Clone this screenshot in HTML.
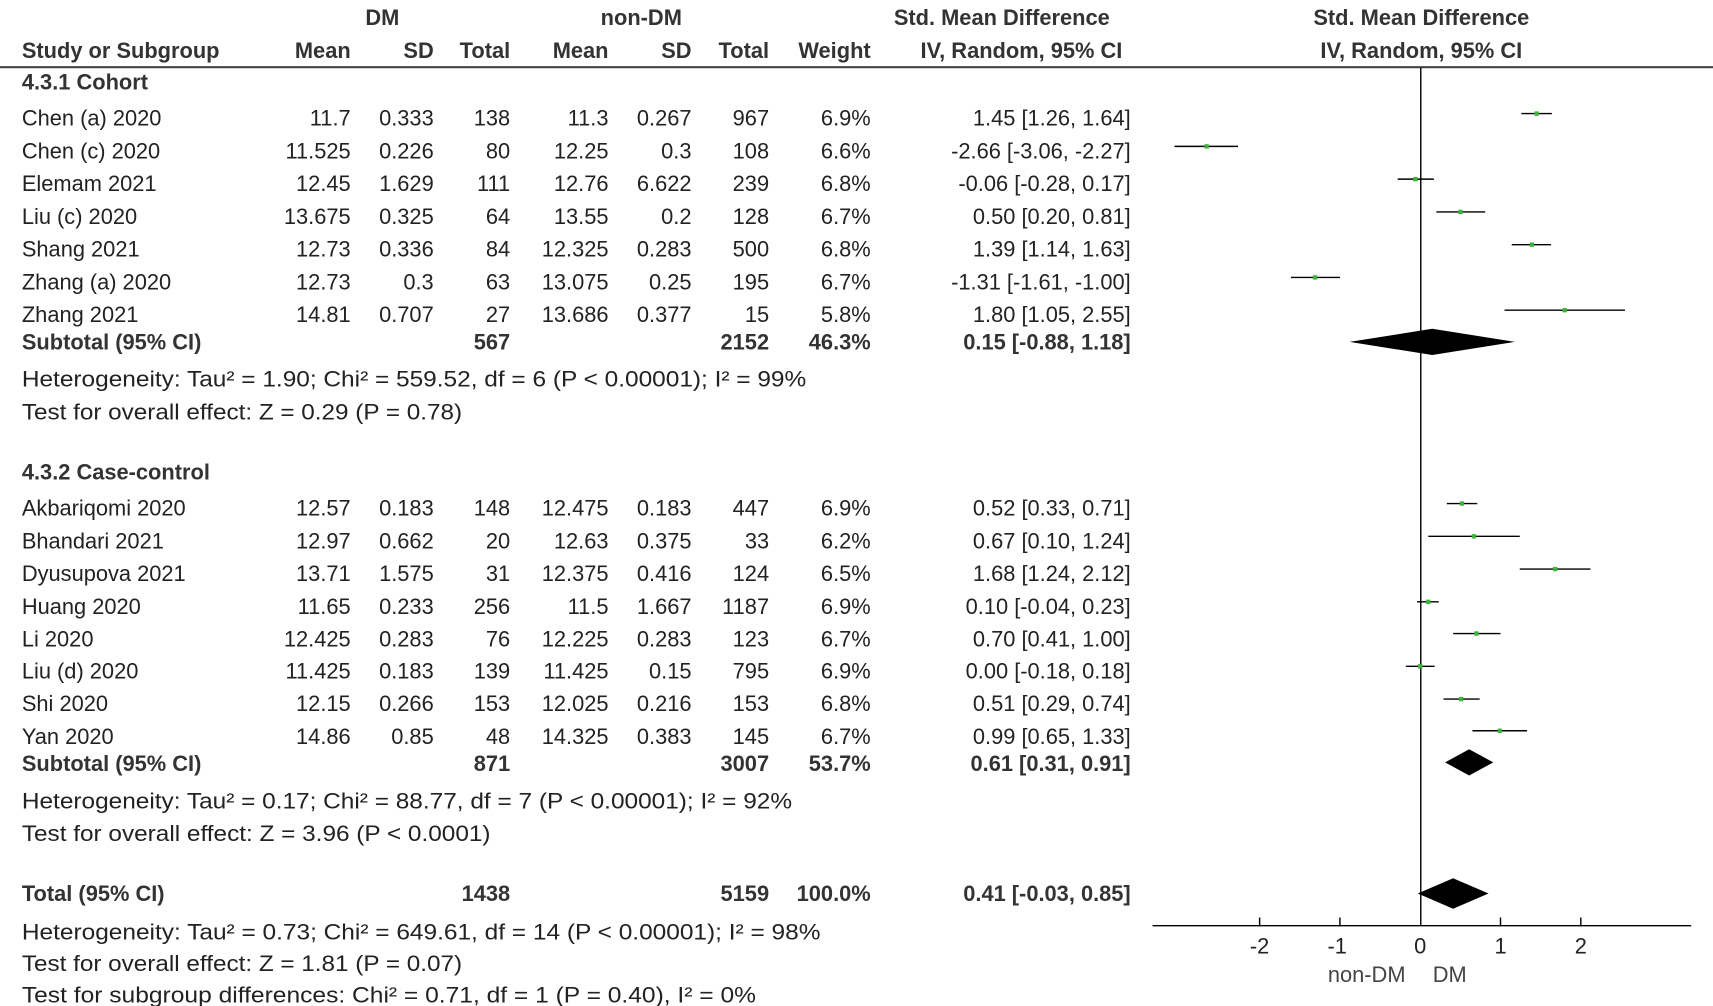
<!DOCTYPE html>
<html><head><meta charset="utf-8"><style>
html,body{margin:0;padding:0;background:#fff;}
svg{display:block;}
text{font-family:"Liberation Sans",Arial,sans-serif;font-size:20px;fill:#222;}
.b{font-weight:bold;fill:#333;}
.r{text-anchor:end;}
.c{text-anchor:middle;}
</style></head><body>
<svg width="1713" height="1006" viewBox="0 0 1568 921" preserveAspectRatio="none" xmlns="http://www.w3.org/2000/svg">
<!-- header -->
<text class="b c" x="350" y="23">DM</text>
<text class="b c" x="587" y="23">non-DM</text>
<text class="b c" x="917" y="23">Std. Mean Difference</text>
<text class="b c" x="1301" y="23">Std. Mean Difference</text>
<text class="b" x="20" y="53">Study or Subgroup</text>
<text class="b r" x="321" y="53">Mean</text>
<text class="b r" x="397" y="53">SD</text>
<text class="b r" x="467" y="53">Total</text>
<text class="b r" x="557" y="53">Mean</text>
<text class="b r" x="633" y="53">SD</text>
<text class="b r" x="704" y="53">Total</text>
<text class="b r" x="797" y="53">Weight</text>
<text class="b c" x="935" y="53">IV, Random, 95% CI</text>
<text class="b c" x="1301" y="53">IV, Random, 95% CI</text>
<line x1="0" y1="61.5" x2="1568" y2="61.5" stroke="#444" stroke-width="2"/>

<text class="b" x="20" y="82">4.3.1 Cohort</text>
<g>
<text x="20" y="115">Chen (a) 2020</text><text class="r" x="321" y="115">11.7</text><text class="r" x="397" y="115">0.333</text><text class="r" x="467" y="115">138</text><text class="r" x="557" y="115">11.3</text><text class="r" x="633" y="115">0.267</text><text class="r" x="704" y="115">967</text><text class="r" x="797" y="115">6.9%</text><text class="r" x="1035" y="115">1.45 [1.26, 1.64]</text>
<text x="20" y="145">Chen (c) 2020</text><text class="r" x="321" y="145">11.525</text><text class="r" x="397" y="145">0.226</text><text class="r" x="467" y="145">80</text><text class="r" x="557" y="145">12.25</text><text class="r" x="633" y="145">0.3</text><text class="r" x="704" y="145">108</text><text class="r" x="797" y="145">6.6%</text><text class="r" x="1035" y="145">-2.66 [-3.06, -2.27]</text>
<text x="20" y="175">Elemam 2021</text><text class="r" x="321" y="175">12.45</text><text class="r" x="397" y="175">1.629</text><text class="r" x="467" y="175">111</text><text class="r" x="557" y="175">12.76</text><text class="r" x="633" y="175">6.622</text><text class="r" x="704" y="175">239</text><text class="r" x="797" y="175">6.8%</text><text class="r" x="1035" y="175">-0.06 [-0.28, 0.17]</text>
<text x="20" y="205">Liu (c) 2020</text><text class="r" x="321" y="205">13.675</text><text class="r" x="397" y="205">0.325</text><text class="r" x="467" y="205">64</text><text class="r" x="557" y="205">13.55</text><text class="r" x="633" y="205">0.2</text><text class="r" x="704" y="205">128</text><text class="r" x="797" y="205">6.7%</text><text class="r" x="1035" y="205">0.50 [0.20, 0.81]</text>
<text x="20" y="235">Shang 2021</text><text class="r" x="321" y="235">12.73</text><text class="r" x="397" y="235">0.336</text><text class="r" x="467" y="235">84</text><text class="r" x="557" y="235">12.325</text><text class="r" x="633" y="235">0.283</text><text class="r" x="704" y="235">500</text><text class="r" x="797" y="235">6.8%</text><text class="r" x="1035" y="235">1.39 [1.14, 1.63]</text>
<text x="20" y="265">Zhang (a) 2020</text><text class="r" x="321" y="265">12.73</text><text class="r" x="397" y="265">0.3</text><text class="r" x="467" y="265">63</text><text class="r" x="557" y="265">13.075</text><text class="r" x="633" y="265">0.25</text><text class="r" x="704" y="265">195</text><text class="r" x="797" y="265">6.7%</text><text class="r" x="1035" y="265">-1.31 [-1.61, -1.00]</text>
<text x="20" y="295">Zhang 2021</text><text class="r" x="321" y="295">14.81</text><text class="r" x="397" y="295">0.707</text><text class="r" x="467" y="295">27</text><text class="r" x="557" y="295">13.686</text><text class="r" x="633" y="295">0.377</text><text class="r" x="704" y="295">15</text><text class="r" x="797" y="295">5.8%</text><text class="r" x="1035" y="295">1.80 [1.05, 2.55]</text>
<text class="b" x="20" y="320">Subtotal (95% CI)</text><text class="b r" x="467" y="320">567</text><text class="b r" x="704" y="320">2152</text><text class="b r" x="797" y="320">46.3%</text><text class="b r" x="1035" y="320">0.15 [-0.88, 1.18]</text>
<text x="20" y="354" textLength="718" lengthAdjust="spacingAndGlyphs">Heterogeneity: Tau² = 1.90; Chi² = 559.52, df = 6 (P &lt; 0.00001); I² = 99%</text>
<text x="20" y="384" textLength="403" lengthAdjust="spacingAndGlyphs">Test for overall effect: Z = 0.29 (P = 0.78)</text>
</g>

<text class="b" x="20" y="439">4.3.2 Case-control</text>
<g>
<text x="20" y="472">Akbariqomi 2020</text><text class="r" x="321" y="472">12.57</text><text class="r" x="397" y="472">0.183</text><text class="r" x="467" y="472">148</text><text class="r" x="557" y="472">12.475</text><text class="r" x="633" y="472">0.183</text><text class="r" x="704" y="472">447</text><text class="r" x="797" y="472">6.9%</text><text class="r" x="1035" y="472">0.52 [0.33, 0.71]</text>
<text x="20" y="502">Bhandari 2021</text><text class="r" x="321" y="502">12.97</text><text class="r" x="397" y="502">0.662</text><text class="r" x="467" y="502">20</text><text class="r" x="557" y="502">12.63</text><text class="r" x="633" y="502">0.375</text><text class="r" x="704" y="502">33</text><text class="r" x="797" y="502">6.2%</text><text class="r" x="1035" y="502">0.67 [0.10, 1.24]</text>
<text x="20" y="532">Dyusupova 2021</text><text class="r" x="321" y="532">13.71</text><text class="r" x="397" y="532">1.575</text><text class="r" x="467" y="532">31</text><text class="r" x="557" y="532">12.375</text><text class="r" x="633" y="532">0.416</text><text class="r" x="704" y="532">124</text><text class="r" x="797" y="532">6.5%</text><text class="r" x="1035" y="532">1.68 [1.24, 2.12]</text>
<text x="20" y="562">Huang 2020</text><text class="r" x="321" y="562">11.65</text><text class="r" x="397" y="562">0.233</text><text class="r" x="467" y="562">256</text><text class="r" x="557" y="562">11.5</text><text class="r" x="633" y="562">1.667</text><text class="r" x="704" y="562">1187</text><text class="r" x="797" y="562">6.9%</text><text class="r" x="1035" y="562">0.10 [-0.04, 0.23]</text>
<text x="20" y="592">Li 2020</text><text class="r" x="321" y="592">12.425</text><text class="r" x="397" y="592">0.283</text><text class="r" x="467" y="592">76</text><text class="r" x="557" y="592">12.225</text><text class="r" x="633" y="592">0.283</text><text class="r" x="704" y="592">123</text><text class="r" x="797" y="592">6.7%</text><text class="r" x="1035" y="592">0.70 [0.41, 1.00]</text>
<text x="20" y="621">Liu (d) 2020</text><text class="r" x="321" y="621">11.425</text><text class="r" x="397" y="621">0.183</text><text class="r" x="467" y="621">139</text><text class="r" x="557" y="621">11.425</text><text class="r" x="633" y="621">0.15</text><text class="r" x="704" y="621">795</text><text class="r" x="797" y="621">6.9%</text><text class="r" x="1035" y="621">0.00 [-0.18, 0.18]</text>
<text x="20" y="651">Shi 2020</text><text class="r" x="321" y="651">12.15</text><text class="r" x="397" y="651">0.266</text><text class="r" x="467" y="651">153</text><text class="r" x="557" y="651">12.025</text><text class="r" x="633" y="651">0.216</text><text class="r" x="704" y="651">153</text><text class="r" x="797" y="651">6.8%</text><text class="r" x="1035" y="651">0.51 [0.29, 0.74]</text>
<text x="20" y="681">Yan 2020</text><text class="r" x="321" y="681">14.86</text><text class="r" x="397" y="681">0.85</text><text class="r" x="467" y="681">48</text><text class="r" x="557" y="681">14.325</text><text class="r" x="633" y="681">0.383</text><text class="r" x="704" y="681">145</text><text class="r" x="797" y="681">6.7%</text><text class="r" x="1035" y="681">0.99 [0.65, 1.33]</text>
<text class="b" x="20" y="706">Subtotal (95% CI)</text><text class="b r" x="467" y="706">871</text><text class="b r" x="704" y="706">3007</text><text class="b r" x="797" y="706">53.7%</text><text class="b r" x="1035" y="706">0.61 [0.31, 0.91]</text>
<text x="20" y="740" textLength="705" lengthAdjust="spacingAndGlyphs">Heterogeneity: Tau² = 0.17; Chi² = 88.77, df = 7 (P &lt; 0.00001); I² = 92%</text>
<text x="20" y="770" textLength="429" lengthAdjust="spacingAndGlyphs">Test for overall effect: Z = 3.96 (P &lt; 0.0001)</text>
</g>

<text class="b" x="20" y="825">Total (95% CI)</text><text class="b r" x="467" y="825">1438</text><text class="b r" x="704" y="825">5159</text><text class="b r" x="797" y="825">100.0%</text><text class="b r" x="1035" y="825">0.41 [-0.03, 0.85]</text>
<text x="20" y="860" textLength="731" lengthAdjust="spacingAndGlyphs">Heterogeneity: Tau² = 0.73; Chi² = 649.61, df = 14 (P &lt; 0.00001); I² = 98%</text>
<text x="20" y="889" textLength="403" lengthAdjust="spacingAndGlyphs">Test for overall effect: Z = 1.81 (P = 0.07)</text>
<text x="20" y="918" textLength="672" lengthAdjust="spacingAndGlyphs">Test for subgroup differences: Chi² = 0.71, df = 1 (P = 0.40), I² = 0%</text>

<!-- forest plot -->
<line x1="1300.5" y1="62" x2="1300.5" y2="847" stroke="#000" stroke-width="1.3"/>
<g stroke="#000" stroke-width="1.3">
<line x1="1392.6" y1="104" x2="1420.5" y2="104"/>
<line x1="1075.1" y1="134" x2="1133.2" y2="134"/>
<line x1="1279.4" y1="164" x2="1312.5" y2="164"/>
<line x1="1314.7" y1="194" x2="1359.5" y2="194"/>
<line x1="1383.8" y1="224" x2="1419.8" y2="224"/>
<line x1="1181.7" y1="254" x2="1226.5" y2="254"/>
<line x1="1377.2" y1="284" x2="1487.4" y2="284"/>
<line x1="1324.3" y1="461" x2="1352.2" y2="461"/>
<line x1="1307.4" y1="491" x2="1391.1" y2="491"/>
<line x1="1391.1" y1="521" x2="1455.8" y2="521"/>
<line x1="1297.1" y1="551" x2="1316.9" y2="551"/>
<line x1="1330.1" y1="580" x2="1373.5" y2="580"/>
<line x1="1286.8" y1="610" x2="1313.2" y2="610"/>
<line x1="1321.3" y1="640" x2="1354.4" y2="640"/>
<line x1="1347.8" y1="669" x2="1397.8" y2="669"/>
</g>
<g fill="#3cb43c">
<rect x="1404.6" y="102" width="4" height="4"/>
<rect x="1102.5" y="132" width="4" height="4"/>
<rect x="1293.6" y="162" width="4" height="4"/>
<rect x="1334.8" y="192" width="4" height="4"/>
<rect x="1400.2" y="222" width="4" height="4"/>
<rect x="1201.7" y="252" width="4" height="4"/>
<rect x="1430.3" y="282" width="4" height="4"/>
<rect x="1336.2" y="459" width="4" height="4"/>
<rect x="1347.2" y="489" width="4" height="4"/>
<rect x="1421.5" y="519" width="4" height="4"/>
<rect x="1305.4" y="549" width="4" height="4"/>
<rect x="1349.5" y="578" width="4" height="4"/>
<rect x="1298" y="608" width="4" height="4"/>
<rect x="1335.5" y="638" width="4" height="4"/>
<rect x="1370.8" y="667" width="4" height="4"/>
</g>
<polygon points="1235.3,313 1311,301 1386.7,313 1311,325" fill="#000"/>
<polygon points="1322.8,698 1344.8,686 1366.9,698 1344.8,710" fill="#000"/>
<polygon points="1297.8,818 1330.1,804 1362.5,818 1330.1,832" fill="#000"/>
<line x1="1055" y1="847.5" x2="1548" y2="847.5" stroke="#000" stroke-width="1.3"/>
<g stroke="#000" stroke-width="1.3">
<line x1="1153" y1="840" x2="1153" y2="848"/>
<line x1="1226.5" y1="840" x2="1226.5" y2="848"/>
<line x1="1373.5" y1="840" x2="1373.5" y2="848"/>
<line x1="1447" y1="840" x2="1447" y2="848"/>
</g>
<text class="c" x="1153" y="873">-2</text>
<text class="c" x="1224" y="873">-1</text>
<text class="c" x="1300" y="873">0</text>
<text class="c" x="1373.5" y="873">1</text>
<text class="c" x="1447" y="873">2</text>
<text class="c" x="1251" y="899" style="fill:#444">non-DM</text>
<text class="c" x="1327" y="899" style="fill:#444">DM</text>
</svg>
</body></html>
